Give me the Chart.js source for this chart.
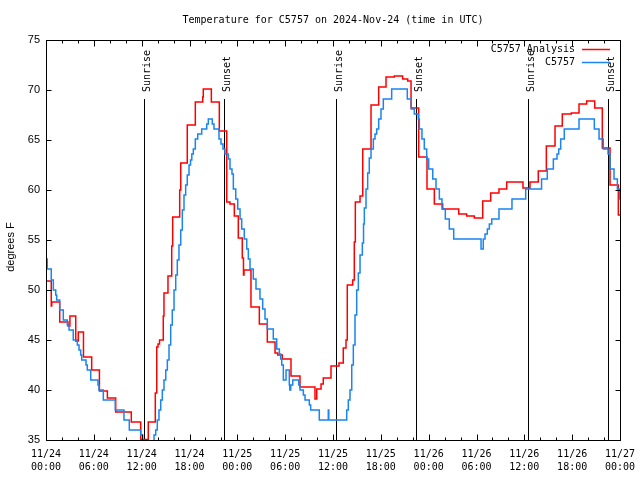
<!DOCTYPE html>
<html><head><meta charset="utf-8">
<script src="https://cdn.jsdelivr.net/npm/chart.js@4/dist/chart.umd.min.js"></script>
<style>html,body{margin:0;padding:0;background:#fff}canvas{display:block}</style>
</head><body>
<canvas id="c" width="640" height="480"></canvas>
<script>
const titleText = "Temperature for C5757 on 2024-Nov-24 (time in UTC)";
const yAxisTitle = "degrees F";
const seriesNames = ["C5757 Analysis", "C5757"];
const xTickLabels = [
  ["11/24","00:00"],["11/24","06:00"],["11/24","12:00"],["11/24","18:00"],
  ["11/25","00:00"],["11/25","06:00"],["11/25","12:00"],["11/25","18:00"],
  ["11/26","00:00"],["11/26","06:00"],["11/26","12:00"],["11/26","18:00"],
  ["11/27","00:00"]
];
// hours since 11/24 00:00 UTC, value holds until next step
const anaHours = [0,0.66,0.72,1.72,2.76,3.0,3.73,4.05,4.7,5.73,6.7,7.7,8.74,10.7,11.88,12.83,13.71,13.89,14.05,14.24,14.71,14.8,15.3,15.77,15.89,16.77,16.9,17.72,18.73,19.66,19.73,20.74,21.74,22.67,23.08,23.62,24.12,24.62,24.77,24.84,25.71,26.76,27.76,28.73,29.06,29.64,30.73,31.86,33.74,33.96,34.5,34.78,35.75,36.75,37.29,37.63,37.79,38.47,38.67,38.8,39.39,39.73,40.77,41.73,42.65,43.69,44.74,45.37,45.79,46.75,47.79,48.71,49.76,51.77,52.77,53.73,54.78,55.78,56.82,57.79,59.83,60.71,61.75,62.76,63.85,64.76,65.89,66.86,67.82,68.83,69.78,70.75,71.79,72];
const anaTemps = [50.9,48.4,48.8,46.8,46.4,47.4,44.9,45.8,43.3,42.0,39.9,39.2,37.8,36.8,35.05,36.8,39.7,44.3,44.6,45.0,47.4,49.7,51.4,54.4,57.3,60.0,62.7,66.5,68.8,69.3,70.1,68.8,65.9,58.8,58.6,57.4,55.2,53.2,51.5,52.0,48.3,46.6,44.8,43.7,43.5,43.1,41.4,40.3,39.1,40.1,40.6,41.2,42.4,42.7,44.2,45.0,50.5,51.0,54.8,58.8,59.4,64.1,68.5,70.3,71.3,71.4,71.1,70.9,68.2,63.3,60.1,58.6,58.1,57.6,57.4,57.2,58.9,59.7,60.1,60.8,60.2,60.8,61.9,64.4,66.4,67.6,67.7,68.6,68.9,68.2,64.2,60.5,57.5,57.5];
const obsHours = [0,0.16,0.66,0.92,1.22,1.34,1.72,2.17,2.67,2.89,3.42,3.93,4.14,4.35,4.48,5.02,5.18,5.61,6.52,6.65,7.19,8.69,9.78,10.45,11.88,12.13,13.55,13.76,13.96,14.17,14.39,14.59,14.8,15.02,15.22,15.43,15.64,15.84,16.06,16.27,16.47,16.68,16.9,17.1,17.31,17.52,17.72,17.94,18.13,18.29,18.48,18.73,19.03,19.53,20.16,20.36,20.86,21.07,21.7,21.95,22.2,22.45,22.87,23.08,23.33,23.5,23.8,24.05,24.34,24.55,24.87,25.18,25.38,25.59,26.0,26.34,26.84,27.18,27.47,27.76,28.51,28.94,29.27,29.44,29.57,29.77,30.11,30.52,30.58,30.7,30.95,31.7,31.86,32.28,32.49,33.03,33.2,34.28,35.41,35.47,37.72,37.92,38.13,38.35,38.55,38.76,38.97,39.18,39.39,39.68,39.83,39.93,40.14,40.35,40.55,40.77,41.06,41.27,41.48,41.73,42.02,42.31,43.36,45.32,45.82,46.2,46.7,46.83,47.16,47.45,47.75,48.0,48.51,48.92,49.34,49.67,50.09,50.59,51.14,54.57,54.85,55.07,55.36,55.61,55.91,56.82,58.45,60.17,62.16,62.88,63.64,64.1,64.31,64.56,65.01,66.86,68.78,69.37,69.9,70.5,70.75,71.25,71.67,71.95,72];
const obsTemps = [53.1,52.1,51.0,50.0,49.5,49.0,48.0,47.0,46.5,46.0,45.0,44.5,44.0,43.5,43.0,42.5,42.0,41.0,40.5,40.0,39.0,38.0,37.0,36.0,35.5,34.0,35.5,36,37,38,39,40,41,42,43,44.5,46.5,48,50,51.5,53,54.5,56,58,59.5,60.5,61.5,62.5,63.0,63.6,64.1,65.1,65.6,66.1,66.6,67.1,66.6,66.1,65.1,64.6,64.1,63.6,63.1,62.1,61.6,60.1,59.1,58.1,57.1,56.1,55.1,54.1,53.1,52.1,51.1,50.1,49.1,48.1,47.1,46.1,45.1,44.1,43.6,43.1,42.5,41.0,42.0,40.5,40.0,40.5,41.0,40.5,40.0,39.5,39.0,38.5,38.0,37.0,38.0,37.0,38,39,40,42.5,44.5,47.5,50,51.7,53.5,54.7,56.6,58.2,60.1,61.7,63.2,64.1,65.1,65.6,66.1,67.1,68.1,69.1,70.1,69.1,68.1,67.6,67.1,66.1,65.1,64.1,63.1,62.1,61.1,60.1,59.1,58.1,57.1,56.1,55.1,54.1,55.1,55.6,56.1,56.6,57.1,58.1,59.1,60.1,61.1,62.1,63.1,63.6,64.1,65.1,66.1,67.1,66.1,65.1,64.1,63.6,62.1,61.1,60.1,59.1,59.1];
const sunHours = [12.33, 22.35, 36.41, 46.45, 60.49, 70.53];
const sunLabels = ["Sunrise","Sunset","Sunrise","Sunset","Sunrise","Sunset"];

const toPoints = (hs, ts) => hs.map((h, i) => ({x: h, y: ts[i]}));
const MONO = '"DejaVu Sans Mono", "Liberation Mono", monospace';
const SANS = '"Liberation Sans", Arial, sans-serif';

const deco = {
  id: 'deco',
  beforeDatasetsDraw(chart) {
    const {ctx, chartArea: a, scales: {x, y}} = chart;
    ctx.save();
    ctx.strokeStyle = '#000'; ctx.lineWidth = 1;
    const topY = Math.round(y.getPixelForValue(69.1));
    sunHours.forEach(h => {
      const px = Math.round(x.getPixelForValue(h)) + 0.5;
      ctx.beginPath(); ctx.moveTo(px, a.bottom); ctx.lineTo(px, topY); ctx.stroke();
    });
    ctx.restore();
  },
  afterDraw(chart) {
    const {ctx, chartArea: a, scales: {x, y}} = chart;
    ctx.save();
    ctx.strokeStyle = '#000'; ctx.lineWidth = 1;
    const L = Math.round(a.left) + 0.5, R = Math.round(a.right) + 0.5;
    const T = Math.round(a.top) + 0.5, B = Math.round(a.bottom) + 0.5;
    ctx.strokeRect(L, T, R - L, B - T);
    ctx.beginPath();
    for (let h = 2; h < 72; h += 2) {
      const len = h % 6 === 0 ? 6 : 3;
      const px = Math.round(x.getPixelForValue(h)) + 0.5;
      ctx.moveTo(px, B); ctx.lineTo(px, B - len);
      ctx.moveTo(px, T); ctx.lineTo(px, T + len);
    }
    for (let v = 40; v < 75; v += 5) {
      const py = Math.round(y.getPixelForValue(v)) + 0.5;
      ctx.moveTo(L, py); ctx.lineTo(L + 5, py);
      ctx.moveTo(R, py); ctx.lineTo(R - 5, py);
    }
    ctx.stroke();

    ctx.fillStyle = '#000';
    // title
    ctx.font = '10px ' + MONO;
    ctx.textAlign = 'center'; ctx.textBaseline = 'middle';
    ctx.fillText(titleText, (a.left + a.right) / 2, 20);
    // sun labels
    const topY = Math.round(y.getPixelForValue(69.1));
    sunHours.forEach((h, i) => {
      const px = Math.round(x.getPixelForValue(h));
      ctx.save();
      ctx.translate(px + 5.5, topY - 7);
      ctx.rotate(-Math.PI / 2);
      ctx.textAlign = 'left'; ctx.textBaseline = 'alphabetic';
      ctx.font = '10px ' + MONO;
      ctx.fillText(sunLabels[i], 0, 0);
      ctx.restore();
    });
    // legend
    const colors = ['#ff0000', '#1a84f0'];
    const rows = [49.5, 62.5];
    ctx.font = '10px ' + MONO;
    ctx.textAlign = 'right'; ctx.textBaseline = 'middle';
    seriesNames.forEach((n, i) => {
      ctx.fillStyle = '#000';
      ctx.fillText(n, 575, rows[i]);
      ctx.strokeStyle = colors[i]; ctx.lineWidth = 1.5;
      ctx.beginPath(); ctx.moveTo(582, rows[i]); ctx.lineTo(610, rows[i]); ctx.stroke();
    });
    // y axis title
    ctx.save();
    ctx.fillStyle = '#000';
    ctx.translate(11, (a.top + a.bottom) / 2 + 7);
    ctx.rotate(-Math.PI / 2);
    ctx.font = '11px ' + SANS;
    ctx.textAlign = 'center'; ctx.textBaseline = 'middle';
    ctx.fillText(yAxisTitle, 0, 0);
    ctx.restore();
    ctx.restore();
  }
};

new Chart(document.getElementById('c'), {
  type: 'line',
  data: {
    datasets: [
      {label: seriesNames[1], data: toPoints(obsHours, obsTemps), borderColor: '#1a84f0',
       borderWidth: 1.5, pointRadius: 0, stepped: 'before', fill: false, order: 0},
      {label: seriesNames[0], data: toPoints(anaHours, anaTemps), borderColor: '#ff0000',
       borderWidth: 1.5, pointRadius: 0, stepped: 'before', fill: false, order: 1}
    ]
  },
  options: {
    responsive: false, animation: false, devicePixelRatio: 1,
    layout: {padding: {top: 40, right: 20, left: 0, bottom: 0}},
    plugins: {legend: {display: false}, tooltip: {enabled: false}, title: {display: false}},
    scales: {
      x: {
        type: 'linear', min: 0, max: 72,
        grid: {display: false, drawTicks: false}, border: {display: false},
        afterFit: s => { s.height = 40; s.paddingLeft = 0; s.paddingRight = 0; },
        afterBuildTicks: s => { s.ticks = xTickLabels.map((_, i) => ({value: i * 6})); },
        ticks: {
          autoSkip: false, maxRotation: 0, minRotation: 0, padding: 8, color: '#000',
          font: {family: MONO, size: 10, lineHeight: 1.3},
          callback: (v) => xTickLabels[Math.round(v / 6)]
        }
      },
      y: {
        min: 35, max: 75,
        grid: {display: false, drawTicks: false}, border: {display: false},
        afterFit: s => { s.width = 46; s.paddingTop = 0; s.paddingBottom = 0; },
        ticks: {stepSize: 5, padding: 6, color: '#000', font: {family: SANS, size: 11}}
      }
    }
  },
  plugins: [deco]
});
</script>
</body></html>
